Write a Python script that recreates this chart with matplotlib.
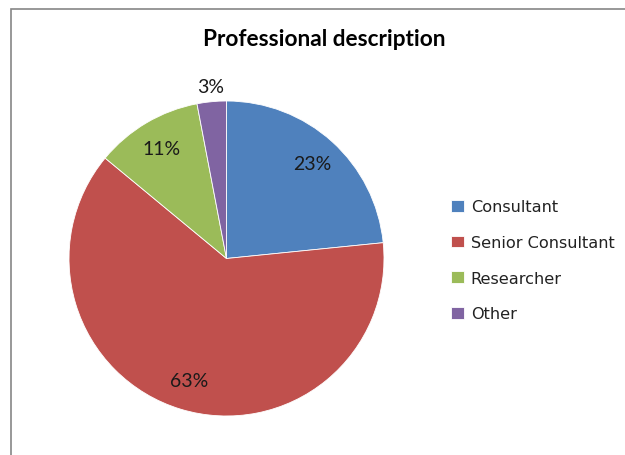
import matplotlib
matplotlib.use('Agg')
import matplotlib.pyplot as plt
from matplotlib.patches import Rectangle

# Data
categories = ['Consultant', 'Senior Consultant', 'Researcher', 'Other']
shares = [23.4, 62.6, 11.0, 3.0]
colors = ['#4F81BD', '#C0504D', '#9BBB59', '#8064A2']

W, H = 625, 456
fig = plt.figure(figsize=(W / 100, H / 100), dpi=100)

# chart frame (light gray, runs off the right and bottom edges)
fig.patches.append(Rectangle((11 / W, -0.1), 1.2, 1 - 9.5 / H + 0.1,
                             transform=fig.transFigure, fill=False,
                             edgecolor='#868686', linewidth=1.2))

# pie axes, square in pixels: center (226.5, 259.5), radius 157.5
cx, cy, r = 226.5, 259.5, 157.5
ax = fig.add_axes([(cx - r) / W, (H - cy - r) / H, 2 * r / W, 2 * r / H])

wedges, texts, autotexts = ax.pie(shares, colors=colors, startangle=90,
                                  counterclock=False, autopct='%.0f%%',
                                  pctdistance=0.81,
                                  wedgeprops=dict(linewidth=0.6, edgecolor='white'),
                                  textprops=dict(family='Lato', fontsize=14,
                                                 color='#1a1a1a'))
ax.set_xlim(-1, 1)
ax.set_ylim(-1, 1)
ax.set_aspect('equal')

# the small slice carries its label outside the pie
px, py = autotexts[-1].get_position()
k = 1.1 / 0.81
autotexts[-1].set_position((px * k, py * k))

fig.text(324 / W, 1 - 40 / H, 'Professional description', ha='center',
         va='center', family='Lato', fontweight='bold', fontsize=16.3,
         color='black')

leg = fig.legend(wedges, categories, loc='upper left',
                 bbox_to_anchor=(445 / W, 1 - 194 / H), frameon=False,
                 prop=dict(family='DejaVu Sans', size=11.6),
                 handlelength=0.75, handleheight=0.75, handletextpad=0.45,
                 labelspacing=1.28, borderaxespad=0)
for t in leg.get_texts():
    t.set_color('#222222')

fig.savefig('out.png', dpi=100, facecolor='white')
